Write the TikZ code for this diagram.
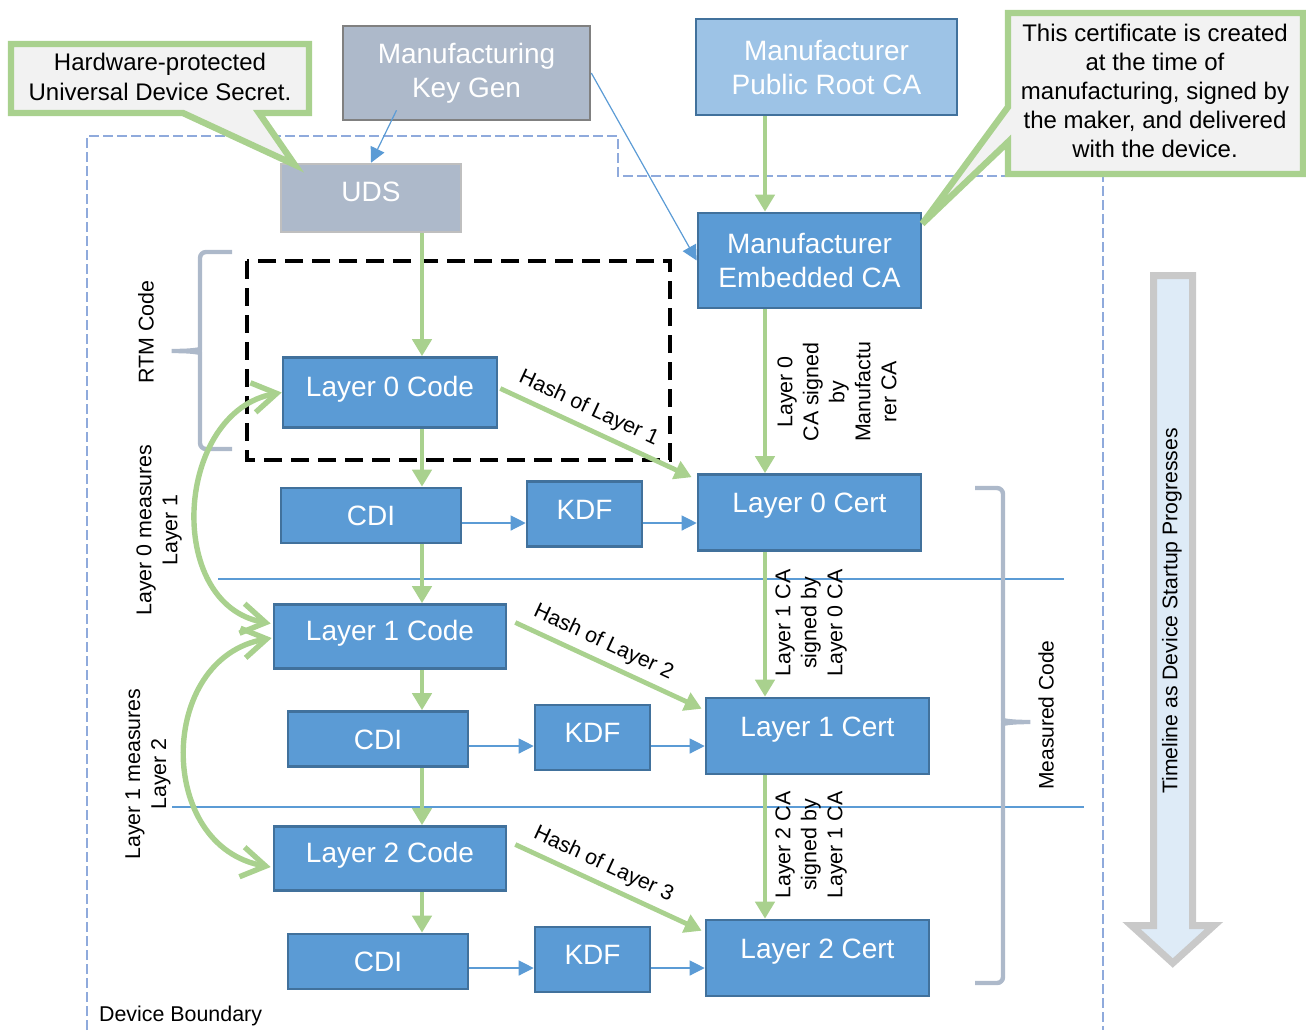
\documentclass[tikz,border=0pt]{standalone}
\usepackage{fontspec}
\setmainfont{Liberation Sans}
\usetikzlibrary{arrows.meta,calc}

\definecolor{boxblue}{HTML}{5B9BD5}
\definecolor{edgeblue}{HTML}{41719C}
\definecolor{rootblue}{HTML}{9DC3E6}
\definecolor{boxgray}{HTML}{ADB9CA}
\definecolor{leafgreen}{HTML}{A9D18E}
\definecolor{notegray}{HTML}{F2F2F2}
\definecolor{boundblue}{HTML}{8FAADC}
\definecolor{timefill}{HTML}{DEEBF7}
\definecolor{timeedge}{HTML}{C9C9C9}

\tikzset{
	blk/.style={draw=edgeblue, fill=boxblue, text=white, line width=1.3pt, inner sep=0pt, font=\fontsize{14}{17}\selectfont},
	codebox/.style={blk, minimum width=116pt, minimum height=32pt, text height=10pt, text depth=6pt},
	cdibox/.style={blk, minimum width=90pt, minimum height=27.5pt, text height=10pt, text depth=0pt},
	kdfbox/.style={blk, minimum width=57.5pt, minimum height=32.5pt, text height=10pt, text depth=5pt},
	certbox/.style={blk, minimum width=111.5pt, minimum height=38pt, text height=10pt, text depth=10pt},
	grn/.style={draw=leafgreen, line width=2.4pt, -{Triangle[length=8.5pt,width=9.5pt]}},
	thinarr/.style={draw=boxblue, line width=0.6pt, -{Triangle[length=7.5pt,width=7.5pt]}},
	measarr/.style={draw=leafgreen, line width=2.7pt, {Straight Barb[length=12pt,width=15pt]}-{Straight Barb[length=12pt,width=15pt]}},
	vlabel/.style={rotate=90, align=center, font=\fontsize{10.7}{13}\selectfont},
	hashlbl/.style={font=\fontsize{10.7}{13}\selectfont, sloped, above},
	bubble/.style={draw=leafgreen, fill=notegray, line width=3.2pt, line join=miter},
	bubtext/.style={align=center, font=\fontsize{12}{14.6}\selectfont},
	brc/.style={draw=boxgray, line width=2.2pt, rounded corners=3pt},
	sepline/.style={draw=boxblue, line width=0.6pt},
}

\begin{document}
\begin{tikzpicture}[x=0.5pt, y=-0.5pt]
	\useasboundingbox (0,0) rectangle (1306,1030);
	
	% Device boundary, RTM frame and layer separators
	\draw[boundblue, line width=1.2pt, dash pattern=on 5pt off 2pt] (87,1030) -- (87,136) -- (618,136) -- (618,176) -- (1103,176) -- (1103,1030);
	\node[anchor=west, font=\fontsize{10.7}{13}\selectfont] (devb) at (92,1016) {Device Boundary};
	\draw[black, line width=2pt, dash pattern=on 9pt off 4.5pt] (247,261) rectangle (670,460);
	\draw[sepline] (218,579) -- (1064,579);
	\draw[sepline] (172,807) -- (1084,807);
	
	% Draw nodes
	\node[blk, fill=boxgray, draw=gray, minimum width=123.5pt, minimum height=47pt, align=center] (keygen) at (466.5,73) {Manufacturing\\Key Gen};
	\node[blk, fill=boxgray, draw=lightgray, minimum width=90pt, minimum height=34pt, text height=10pt, text depth=7pt] (uds) at (371,198) {UDS};
	\node[blk, fill=rootblue, minimum width=130.5pt, minimum height=48pt, align=center] (rootca) at (826.5,67) {Manufacturer\\Public Root CA};
	\node[blk, minimum width=111.5pt, minimum height=47.5pt, align=center] (embca) at (809.5,260.5) {Manufacturer\\Embedded CA};
	
	\node[codebox, minimum width=107pt, minimum height=35pt] (code0) at (390,392.5) {Layer 0 Code};
	\node[cdibox] (cdi0) at (371,515.5) {CDI};
	\node[kdfbox] (kdf0) at (584.5,514) {KDF};
	\node[certbox] (cert0) at (809.5,512.5) {Layer 0 Cert};
	
	\node[codebox] (code1) at (390,636.5) {Layer 1 Code};
	\node[cdibox] (cdi1) at (378,739) {CDI};
	\node[kdfbox] (kdf1) at (592.5,737.5) {KDF};
	\node[certbox] (cert1) at (817.5,736) {Layer 1 Cert};
	
	\node[codebox] (code2) at (390,858.5) {Layer 2 Code};
	\node[cdibox] (cdi2) at (378,961.5) {CDI};
	\node[kdfbox] (kdf2) at (592.5,959.5) {KDF};
	\node[certbox] (cert2) at (817.5,958) {Layer 2 Cert};
	
	% Side texts
	\node[vlabel] (rtm) at (146,332) {RTM Code};
	\node[vlabel] (meas0) at (159,530) {Layer 0 measures\\Layer 1};
	\node[vlabel] (meas1) at (148,774) {Layer 1 measures\\Layer 2};
	\node[vlabel] (sig0) at (837,392) {Layer 0\\CA signed\\by\\Manufactu\\rer CA};
	\node[vlabel] (sig1) at (811,623) {Layer 1 CA\\signed by\\Layer 0 CA};
	\node[vlabel] (sig2) at (811,845) {Layer 2 CA\\signed by\\Layer 1 CA};
	\node[vlabel, font=\fontsize{10.5}{13}\selectfont] (mcode) at (1046,715) {Measured Code};
	
	% Braces
	\draw[brc] (232,252) -- (200,252) -- (200,343) .. controls (200,349) and (195,351) .. (168,351) .. controls (195,351) and (200,353) .. (200,359) -- (200,449) -- (232,449);
	\draw[brc] (975,488) -- (1003,488) -- (1003,714) .. controls (1003,720) and (1008,722) .. (1034,722) .. controls (1008,722) and (1003,724) .. (1003,730) -- (1003,983) -- (975,983);
	
	% Timeline arrow
	\draw[timeedge, fill=timefill, line width=3.5pt, line join=miter] (1153.5,275.5) -- (1192.5,275.5) -- (1192.5,925.5) -- (1214,925.5) -- (1172.75,963) -- (1131.5,925.5) -- (1153.5,925.5) -- cycle;
	\node[vlabel, font=\fontsize{10.6}{13}\selectfont] (tline) at (1172,611) {Timeline as Device Startup Progresses};
	
	% Draw arcs, the code chain
	\coordinate (lx) at (422,0);
	\draw[grn] (uds.south -| lx) to (code0.north -| lx);
	\draw[grn] (code0.south -| lx) to (cdi0.north -| lx);
	\draw[grn] (cdi0.south -| lx) to (code1.north -| lx);
	\draw[grn] (code1.south -| lx) to (cdi1.north -| lx);
	\draw[grn] (cdi1.south -| lx) to (code2.north -| lx);
	\draw[grn] (code2.south -| lx) to (cdi2.north -| lx);
	
	% Draw arcs, the certificate chain
	\coordinate (cx) at (765,0);
	\draw[grn] (rootca.south -| cx) to (embca.north -| cx);
	\draw[grn] (embca.south -| cx) to (cert0.north -| cx);
	\draw[grn] (cert0.south -| cx) to (cert1.north -| cx);
	\draw[grn] (cert1.south -| cx) to (cert2.north -| cx);
	
	% Draw arcs, hashes of the next layer
	\draw[grn] ($(code0.east)+(2,-4)$) to node[hashlbl, pos=0.42] {Hash of Layer 1} ($(cert0.north west)+(-5,4)$);
	\draw[grn] ($(code1.east)+(8,-14)$) to node[hashlbl, pos=0.43] {Hash of Layer 2} ($(cert1.north west)+(-3,12)$);
	\draw[grn] ($(code2.east)+(8,-14)$) to node[hashlbl, pos=0.43] {Hash of Layer 3} ($(cert2.north west)+(-3,12)$);
	
	% Draw arcs, CDI to KDF to cert
	\coordinate (r0) at (0,523);
	\coordinate (r1) at (0,746);
	\coordinate (r2) at (0,968);
	\draw[thinarr] (cdi0.east |- r0) to (kdf0.west |- r0);
	\draw[thinarr] (kdf0.east |- r0) to (cert0.west |- r0);
	\draw[thinarr] (cdi1.east |- r1) to (kdf1.west |- r1);
	\draw[thinarr] (kdf1.east |- r1) to (cert1.west |- r1);
	\draw[thinarr] (cdi2.east |- r2) to (kdf2.west |- r2);
	\draw[thinarr] (kdf2.east |- r2) to (cert2.west |- r2);
	
	% Draw arcs, manufacturing
	\draw[thinarr] ($(keygen.south)+(-70,-11)$) to (uds.north);
	\draw[thinarr] (keygen.east) to (embca.west);
	
	% Draw arcs, layer measures next layer
	\draw[measarr, out=190, in=170, looseness=1.2] (code0.west) to ($(code1.west)+(-2,-13)$);
	\draw[measarr, out=190, in=170, looseness=1.3] ($(code1.west)+(-1,1.5)$) to ($(code2.west)+(-2,8.5)$);
	
	% Callouts
	\draw[bubble] (11,44) -- (309,44) -- (309,113) -- (259,113) -- ($(uds.north west)+(15,2)$) -- (183,113) -- (11,113) -- cycle;
	\node[bubtext] (hwnote) at (160,77) {Hardware-protected\\Universal Device Secret.};
	\draw[bubble] (1008,13) -- (1303,13) -- (1303,174) -- (1008,174) -- (1008,142) -- ($(embca.north east)+(0,12)$) -- (1008,107) -- cycle;
	\node[bubtext] (certnote) at (1155,91) {This certificate is created\\at the time of\\manufacturing, signed by\\the maker, and delivered\\with the device.};
	
\end{tikzpicture}
\end{document}
